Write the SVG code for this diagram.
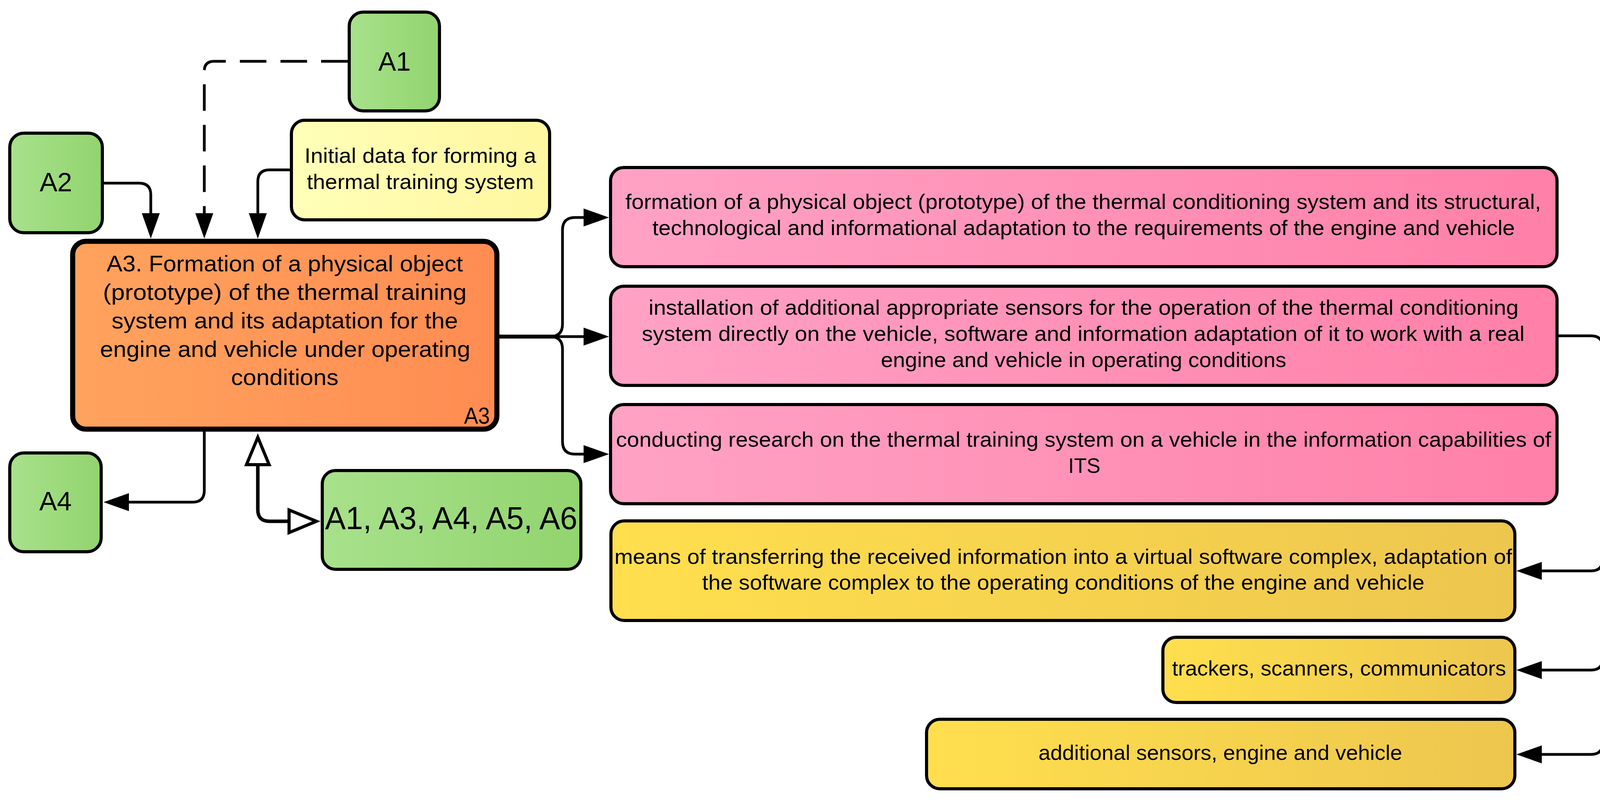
<svg xmlns="http://www.w3.org/2000/svg" width="4157" height="2059" viewBox="0 0 4157 2059">
<defs>
<linearGradient id="gGreen" x1="0" y1="0" x2="1" y2="0"><stop offset="0" stop-color="#a8e18b"/><stop offset="1" stop-color="#92d46f"/></linearGradient>
<linearGradient id="gOrange" x1="0" y1="0" x2="1" y2="0"><stop offset="0" stop-color="#ffa35e"/><stop offset="1" stop-color="#ff8c52"/></linearGradient>
<linearGradient id="gPink" x1="0" y1="0" x2="1" y2="0"><stop offset="0" stop-color="#ffa2c4"/><stop offset="1" stop-color="#ff80a9"/></linearGradient>
<linearGradient id="gLight" x1="0" y1="0" x2="1" y2="0"><stop offset="0" stop-color="#ffffb8"/><stop offset="1" stop-color="#fff7a0"/></linearGradient>
<linearGradient id="gGold" x1="0" y1="0" x2="1" y2="0"><stop offset="0" stop-color="#ffdf4e"/><stop offset="1" stop-color="#edc64e"/></linearGradient>
<marker id="ah" markerUnits="userSpaceOnUse" markerWidth="66" markerHeight="48" viewBox="0 -24 66 48" refX="0" refY="0" orient="auto" overflow="visible"><path d="M0,-23 L65,0 L0,23 Z" fill="#000"/></marker>
<marker id="oa" markerUnits="userSpaceOnUse" markerWidth="90" markerHeight="70" viewBox="-5 -35 90 70" refX="0" refY="0" orient="auto-start-reverse" overflow="visible"><path d="M0,-29 L70,0 L0,29 Z" fill="#fff" stroke="#000" stroke-width="8"/></marker>
</defs>
<style>
.box{stroke:#000;stroke-width:8}
.thick{stroke:#000;stroke-width:13}
.green{fill:url(#gGreen)}
.orange{fill:url(#gOrange)}
.pink{fill:url(#gPink)}
.light{fill:url(#gLight)}
.gold{fill:url(#gGold)}
text{font-family:"Liberation Sans",Arial,sans-serif;fill:#000;text-anchor:middle}
.t{font-size:53px}
.t3{font-size:58px}
.lbl{font-size:68px}
.big{font-size:82px}
.con{fill:none;stroke:#000;stroke-width:7}
.trunk{fill:none;stroke:#000;stroke-width:10}
.dash{stroke-dasharray:68 36}
.arr{marker-end:url(#ah)}
</style>
<rect width="4157" height="2059" fill="#fff"/>
<g id="connectors">
<path class="con arr" d="M266,469 H356 Q386,469 386,499 V546"/>
<path class="con dash arr" d="M890,157 H548 Q523,157 523,182 V546"/>
<path class="con arr" d="M742,435 H690 Q660,435 660,465 V546"/>
<path class="trunk" d="M1278,862 H1420"/>
<path class="con arr" d="M1408,862 Q1440,862 1440,830 V589 Q1440,557 1472,557 H1494"/>
<path class="con arr" d="M1408,862 H1494"/>
<path class="con arr" d="M1408,862 Q1440,862 1440,894 V1131 Q1440,1163 1472,1163 H1494"/>
<path class="con arr" d="M523,1105 V1256 Q523,1286 493,1286 H330"/>
<path class="con" style="stroke-width:9" d="M660,1190 V1305 Q660,1335 690,1335 H740" marker-start="url(#oa)" marker-end="url(#oa)"/>
<path class="con arr" d="M3990,860 H4073 Q4103,860 4103,890 V1432 Q4103,1462 4073,1462 H3947"/>
<path class="con arr" d="M4103,1430 V1686 Q4103,1716 4073,1716 H3947"/>
<path class="con arr" d="M4103,1680 V1902 Q4103,1932 4073,1932 H3947"/>
</g>
<g id="A1">
<rect class="box green" x="894" y="31" width="231" height="253" rx="36"/>
<text class="lbl" x="1010" y="181">A1</text>
</g>
<g id="A2">
<rect class="box green" x="25" y="341" width="237" height="255" rx="36"/>
<text class="lbl" x="143" y="490">A2</text>
</g>
<g id="initial-data">
<rect class="box light" x="746" y="308" width="661" height="255" rx="34"/>
<text class="t" x="1076" y="417" textLength="593" lengthAdjust="spacingAndGlyphs">Initial data for forming a</text>
<text class="t" x="1076" y="484" textLength="581" lengthAdjust="spacingAndGlyphs">thermal training system</text>
</g>
<g id="A3">
<rect class="thick orange" x="186" y="618" width="1086" height="481" rx="34"/>
<text class="t3" x="729" y="695" textLength="912" lengthAdjust="spacingAndGlyphs">A3. Formation of a physical object</text>
<text class="t3" x="729" y="768" textLength="931" lengthAdjust="spacingAndGlyphs">(prototype) of the thermal training</text>
<text class="t3" x="729" y="841" textLength="887" lengthAdjust="spacingAndGlyphs">system and its adaptation for the</text>
<text class="t3" x="730" y="914" textLength="948" lengthAdjust="spacingAndGlyphs">engine and vehicle under operating</text>
<text class="t3" x="729" y="986" textLength="275" lengthAdjust="spacingAndGlyphs">conditions</text>
<text x="1254" y="1085" style="font-size:60px;text-anchor:end" textLength="66" lengthAdjust="spacingAndGlyphs">A3</text>
</g>
<g id="A4">
<rect class="box green" x="25" y="1160" width="234" height="253" rx="36"/>
<text class="lbl" x="142" y="1307">A4</text>
</g>
<g id="A1-A6">
<rect class="box green" x="825" y="1205" width="662" height="253" rx="34"/>
<text class="big" x="1155" y="1355" textLength="646" lengthAdjust="spacingAndGlyphs">A1, A3, A4, A5, A6</text>
</g>
<g id="out1">
<rect class="box pink" x="1563" y="429" width="2423" height="254" rx="34"/>
<text class="t" x="2773" y="535" textLength="2344" lengthAdjust="spacingAndGlyphs">formation of a physical object (prototype) of the thermal conditioning system and its structural,</text>
<text class="t" x="2774" y="602" textLength="2208" lengthAdjust="spacingAndGlyphs">technological and informational adaptation to the requirements of the engine and vehicle</text>
</g>
<g id="out2">
<rect class="box pink" x="1563" y="733" width="2423" height="254" rx="34"/>
<text class="t" x="2774" y="806" textLength="2227" lengthAdjust="spacingAndGlyphs">installation of additional appropriate sensors for the operation of the thermal conditioning</text>
<text class="t" x="2773" y="873" textLength="2260" lengthAdjust="spacingAndGlyphs">system directly on the vehicle, software and information adaptation of it to work with a real</text>
<text class="t" x="2774" y="940" textLength="1038" lengthAdjust="spacingAndGlyphs">engine and vehicle in operating conditions</text>
</g>
<g id="out3">
<rect class="box pink" x="1563" y="1036" width="2423" height="254" rx="34"/>
<text class="t" x="2774" y="1144" textLength="2394" lengthAdjust="spacingAndGlyphs">conducting research on the thermal training system on a vehicle in the information capabilities of</text>
<text class="t" x="2776" y="1211">ITS</text>
</g>
<g id="means">
<rect class="box gold" x="1564" y="1334" width="2314" height="255" rx="34"/>
<text class="t" x="2722" y="1444" textLength="2298" lengthAdjust="spacingAndGlyphs">means of transferring the received information into a virtual software complex, adaptation of</text>
<text class="t" x="2722" y="1510" textLength="1849" lengthAdjust="spacingAndGlyphs">the software complex to the operating conditions of the engine and vehicle</text>
</g>
<g id="trackers">
<rect class="box gold" x="2977" y="1632" width="901" height="167" rx="34"/>
<text class="t" x="3428" y="1730" textLength="855" lengthAdjust="spacingAndGlyphs">trackers, scanners, communicators</text>
</g>
<g id="sensors">
<rect class="box gold" x="2372" y="1842" width="1506" height="178" rx="34"/>
<text class="t" x="3124" y="1946" textLength="931" lengthAdjust="spacingAndGlyphs">additional sensors, engine and vehicle</text>
</g>
</svg>
